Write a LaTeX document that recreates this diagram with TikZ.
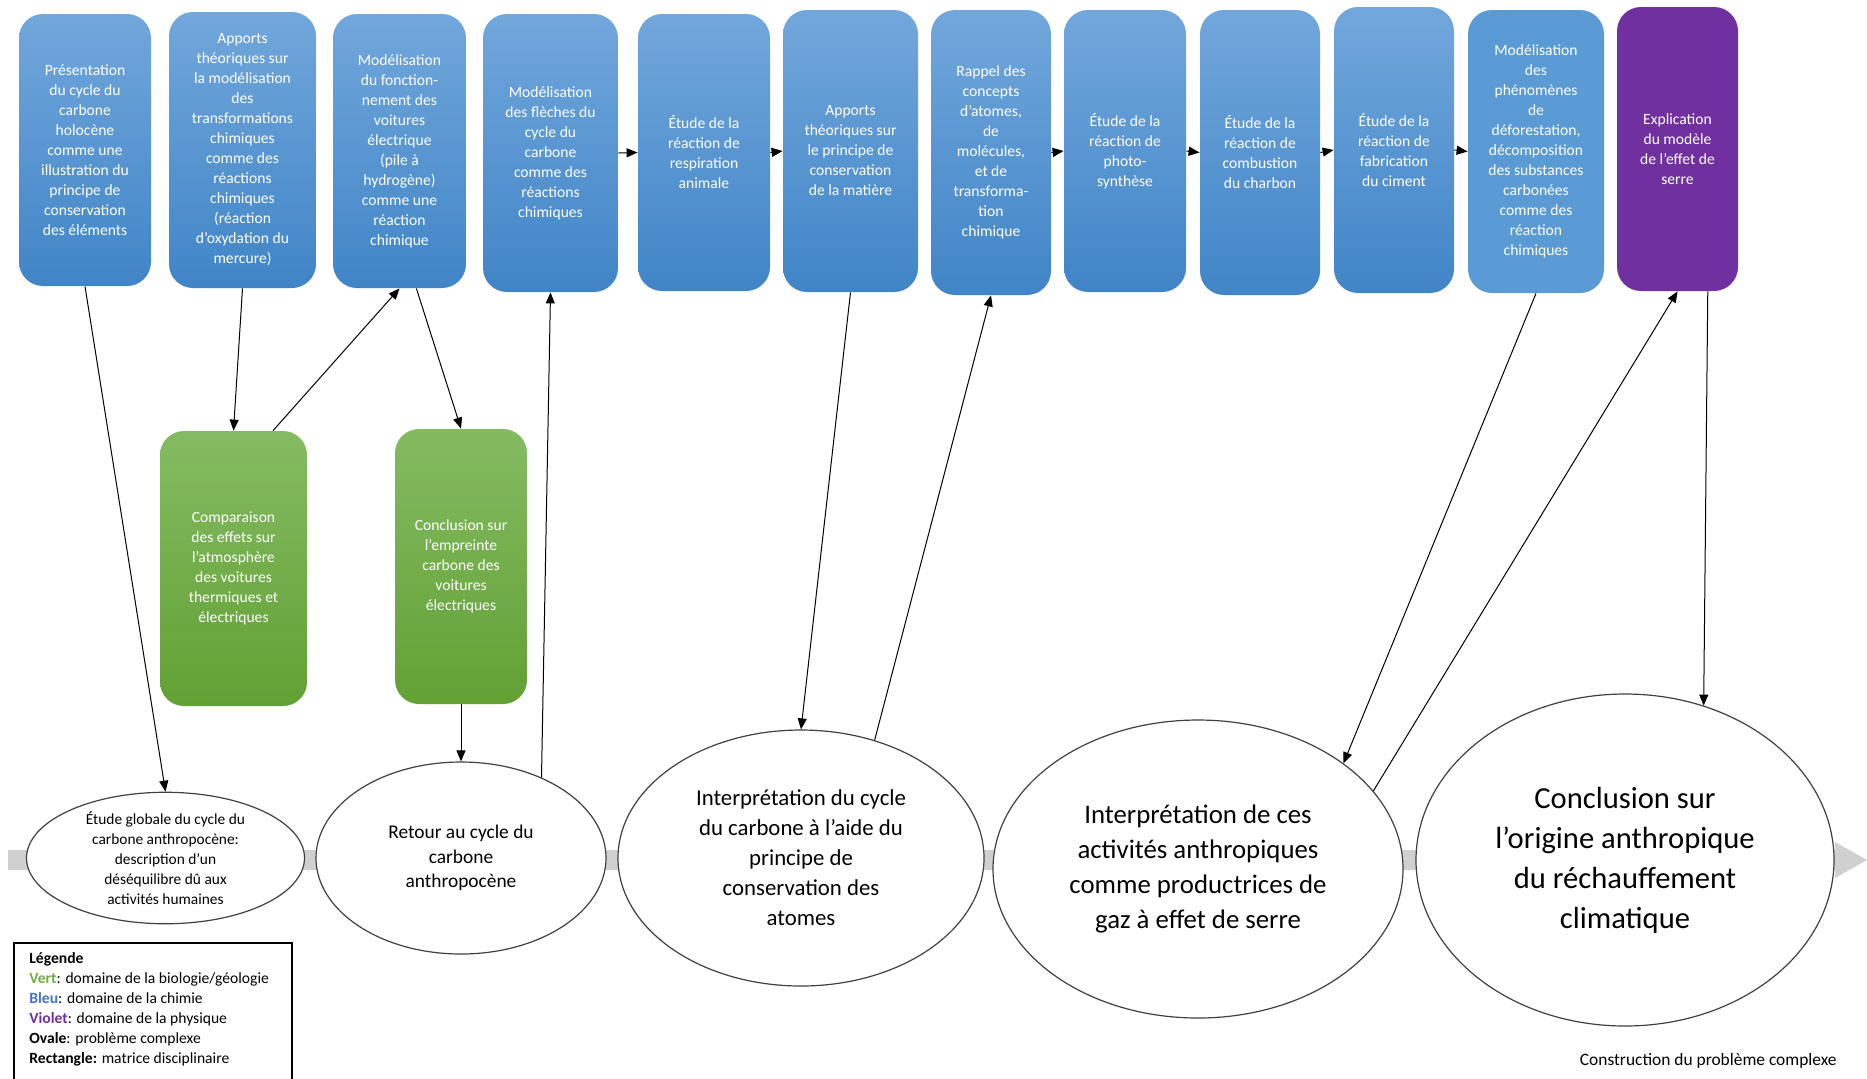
\documentclass[tikz,border=0pt]{standalone}
\usepackage{fontspec}
\setmainfont{Carlito}
\definecolor{bleuhaut}{RGB}{114,167,220}
\definecolor{bleubas}{RGB}{64,133,199}
\definecolor{bleuplat}{RGB}{90,154,213}
\definecolor{verthaut}{RGB}{132,187,98}
\definecolor{vertbas}{RGB}{98,161,52}
\definecolor{violetphys}{RGB}{112,48,160}
\definecolor{grisbande}{RGB}{208,208,208}
\definecolor{legvert}{RGB}{112,173,71}
\definecolor{legbleu}{RGB}{68,114,196}
\usetikzlibrary{arrows.meta,shapes.geometric}
\tikzset{
  mat/.style={rounded corners=12pt,inner sep=0pt,align=center,text=white,font=\fontsize{7.8}{10}\selectfont},
  matB/.style={mat,top color=bleuhaut,bottom color=bleubas},
  matP/.style={mat,fill=bleuplat},
  matG/.style={mat,top color=verthaut,bottom color=vertbas},
  matV/.style={mat,fill=violetphys},
  ovale/.style={ellipse,draw=black!75,line width=0.6pt,fill=white,inner sep=0pt,align=center},
  lnk/.style={-{Triangle[length=5.5pt,width=4.5pt]},line width=0.5pt},
  leglab/.style={inner sep=0pt,font=\fontsize{7.8}{10}\selectfont},
}

\begin{document}
\begin{tikzpicture}[x=0.5pt,y=-0.5pt]
  \useasboundingbox (0,0) rectangle (1867,1078);
  % fleche grise du probleme complexe
  \fill[grisbande] (8,850) -- (1835,850) -- (1835,842) -- (1867,860) -- (1835,878) -- (1835,870) -- (8,870) -- cycle;
  % ovales
  \node[ovale,minimum width=139pt,minimum height=62pt,font=\fontsize{7.7}{10}\selectfont] (o1) at (165.5,858)
    {Étude globale du cycle du\\carbone anthropocène:\\description d’un\\déséquilibre dû aux\\activités humaines};
  \node[ovale,minimum width=145pt,minimum height=96pt,font=\fontsize{9.7}{12.2}\selectfont] (o2) at (461,858)
    {Retour au cycle du\\carbone\\anthropocène};
  \node[ovale,minimum width=183pt,minimum height=128pt,font=\fontsize{11.4}{15}\selectfont] (o3) at (801,858)
    {Interprétation du cycle\\du carbone à l’aide du\\principe de\\conservation des\\atomes};
  \node[ovale,minimum width=205pt,minimum height=149pt,font=\fontsize{13.4}{17.5}\selectfont] (o4) at (1198,869)
    {Interprétation de ces\\activités anthropiques\\comme productrices de\\gaz à effet de serre};
  \node[ovale,minimum width=209pt,minimum height=166pt,font=\fontsize{15.3}{20}\selectfont] (o5) at (1625,860)
    {Conclusion sur\\l’origine anthropique\\du réchauffement\\climatique};
  % matrice disciplinaire
  \node[matB,minimum width=66pt,minimum height=136pt] (b1) at (85,150)
    {Présentation\\du cycle du\\carbone\\holocène\\comme une\\illustration du\\principe de\\conservation\\des éléments};
  \node[matB,minimum width=73.5pt,minimum height=138pt] (b2) at (242.5,150)
    {Apports\\théoriques sur\\la modélisation\\des\\transformations\\chimiques\\comme des\\réactions\\chimiques\\(réaction\\d’oxydation du\\mercure)};
  \node[matB,minimum width=66.5pt,minimum height=137pt] (b3) at (399.5,151)
    {Modélisation\\du fonction-\\nement des\\voitures\\électrique\\(pile à\\hydrogène)\\comme une\\réaction\\chimique};
  \node[matB,minimum width=67.5pt,minimum height=139pt] (b4) at (550.5,153)
    {Modélisation\\des flèches du\\cycle du\\carbone\\comme des\\réactions\\chimiques};
  \node[matB,minimum width=66pt,minimum height=138.5pt] (b5) at (704,152.5)
    {Étude de la\\réaction de\\respiration\\animale};
  \node[matB,minimum width=67.5pt,minimum height=141pt] (b6) at (850.5,151)
    {Apports\\théoriques sur\\le principe de\\conservation\\de la matière};
  \node[matB,minimum width=60pt,minimum height=142.5pt] (b7) at (991,152.5)
    {Rappel des\\concepts\\d’atomes,\\de\\molécules,\\et de\\transforma-\\tion\\chimique};
  \node[matB,minimum width=61pt,minimum height=141pt] (b8) at (1125,151)
    {Étude de la\\réaction de\\photo-\\synthèse};
  \node[matB,minimum width=60pt,minimum height=142.5pt] (b9) at (1260,152.5)
    {Étude de la\\réaction de\\combustion\\du charbon};
  \node[matB,minimum width=60pt,minimum height=143pt] (b10) at (1394,150)
    {Étude de la\\réaction de\\fabrication\\du ciment};
  \node[matP,minimum width=68pt,minimum height=141.5pt] (b11) at (1536,151.5)
    {Modélisation\\des\\phénomènes\\de\\déforestation,\\décomposition\\des substances\\carbonées\\comme des\\réaction\\chimiques};
  \node[matV,minimum width=60.5pt,minimum height=142pt] (b12) at (1677.5,149)
    {Explication\\du modèle\\de l’effet de\\serre};
  \node[matG,minimum width=73.5pt,minimum height=137.5pt] (g1) at (233.5,568.5)
    {Comparaison\\des effets sur\\l’atmosphère\\des voitures\\thermiques et\\électriques};
  \node[matG,minimum width=66pt,minimum height=137.5pt] (g2) at (461,566.5)
    {Conclusion sur\\l’empreinte\\carbone des\\voitures\\électriques};
  % liens
  \foreach \a/\b in {4/5,5/6,7/8,8/9,9/10,10/11}
    \draw[lnk] (b\a.east) -- (b\b.west);
  \draw[lnk] (b1.south) -- (o1.north);
  \draw[lnk] (b2.south) -- (g1.north);
  \draw[lnk] (g1.74) -- (b3.south);
  \draw[lnk] (b3.-83) -- (g2.north);
  \draw[lnk] (g2.south) -- (o2.north);
  \draw[lnk] (o2.45) -- (b4.south);
  \draw[lnk] (b6.south) -- (o3.north);
  \draw[lnk] (o3.58) -- (b7.south);
  \draw[lnk] (b11.south) -- (o4.36);
  \draw[lnk] (o4.24) -- (b12.south);
  \draw[lnk] (b12.-78) -- (o5.63);
  % legende
  \draw[line width=0.8pt] (14,943) rectangle (292,1095);
  \node[leglab,anchor=north west,align=left] (leg) at (29,952)
    {\textbf{Légende}\\
     \textbf{\textcolor{legvert}{Vert}}: domaine de la biologie/géologie\\
     \textbf{\textcolor{legbleu}{Bleu}}: domaine de la chimie\\
     \textbf{\textcolor{violetphys}{Violet}}: domaine de la physique\\
     \textbf{Ovale}: problème complexe\\
     \textbf{Rectangle:} matrice disciplinaire};
  \node[inner sep=0pt,anchor=east,font=\fontsize{8.7}{10}\selectfont] (titre) at (1837,1061)
    {Construction du problème complexe};
\end{tikzpicture}
\end{document}
